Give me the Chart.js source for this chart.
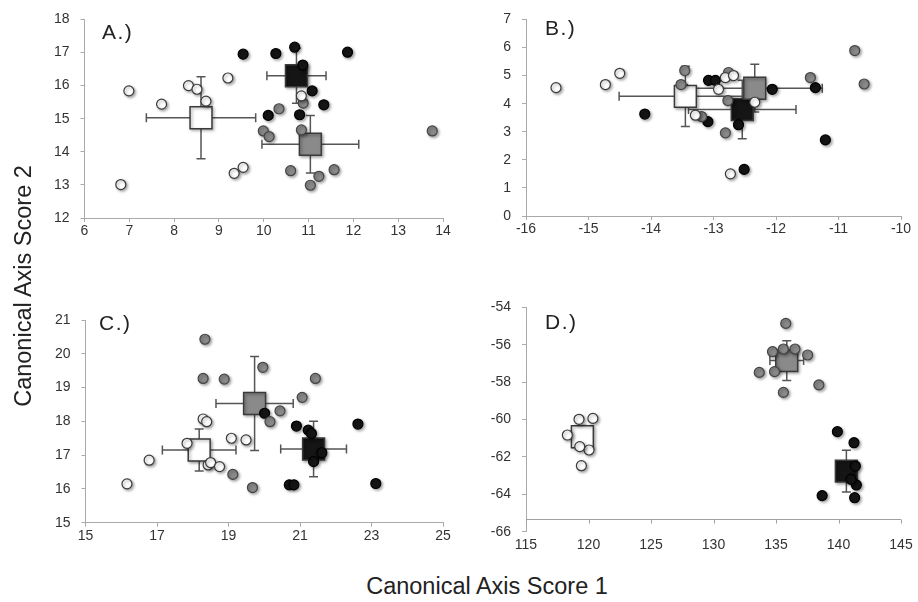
<!DOCTYPE html>
<html lang="en">
<head>
  <meta charset="UTF-8" />
  <title>Canonical Axis Scores</title>
  <script src="https://cdn.jsdelivr.net/npm/chart.js"></script>
  <style>
    body { margin: 0; background: #fff; }
    #wrap { position: relative; width: 918px; height: 602px; overflow: hidden; font-family: "Liberation Sans", Arial, sans-serif; color: #222; }
    #wrap canvas { position: absolute; }
    .lbl { position: absolute; font-size: 21px; line-height: 21px; letter-spacing: 1.5px; white-space: nowrap; }
    .title { position: absolute; font-size: 23.5px; line-height: 24px; white-space: nowrap; text-align: center; }
  </style>
</head>
<body>
  <div id="wrap">
    <canvas id="chartA" width="430" height="262" style="left:30px;top:0px"></canvas>
    <canvas id="chartB" width="448" height="262" style="left:470px;top:0px"></canvas>
    <canvas id="chartC" width="430" height="270" style="left:30px;top:290px"></canvas>
    <canvas id="chartD" width="448" height="272" style="left:470px;top:285px"></canvas>

    <div class="lbl" style="left:102px;top:21px">A.)</div>
    <div class="lbl" style="left:545px;top:16.5px">B.)</div>
    <div class="lbl" style="left:99px;top:312px">C.)</div>
    <div class="lbl" style="left:545px;top:310.5px">D.)</div>

    <div class="title" style="left:287px;top:574px;width:400px">Canonical Axis Score 1</div>
    <div class="title" style="left:-177.5px;top:273.5px;width:400px;transform:rotate(-90deg)">Canonical Axis Score 2</div>
  </div>

  <script>
    // panel A
    const aWhite = [[6.81,13.01],[6.99,15.84],[7.72,15.44],[8.32,16.0],[8.51,15.89],[8.71,15.53],[9.20,16.23],[9.34,13.35],[9.54,13.53],[10.84,15.69]];
    const aGray  = [[9.99,14.63],[10.12,14.46],[10.34,15.30],[10.88,15.47],[10.84,14.66],[10.60,13.43],[11.04,12.99],[11.23,13.26],[11.57,13.46],[13.76,14.63]];
    const aBlack = [[9.54,16.95],[10.27,16.97],[10.69,17.16],[11.87,17.01],[10.87,16.62],[11.08,15.84],[11.34,15.42],[10.10,15.10],[10.80,15.12]];
    const aMeans = [[8.60,15.03],[11.04,14.23],[10.73,16.30]];   // white, gray, black
    const aErrX  = [1.22, 1.08, 0.66];
    const aErrY  = [1.24, 0.87, 0.83];

    // panel B
    const bWhite = [[-15.52,4.57],[-14.73,4.68],[-14.50,5.08],[-13.29,3.59],[-12.92,4.51],[-12.81,4.93],[-12.68,5.0],[-12.73,1.50],[-12.34,4.05]];
    const bGray  = [[-13.46,5.18],[-13.52,4.68],[-12.76,5.11],[-12.77,4.11],[-13.19,3.54],[-12.81,2.96],[-11.45,4.93],[-10.74,5.89],[-10.59,4.70]];
    const bBlack = [[-14.10,3.63],[-13.08,4.83],[-12.97,4.83],[-13.09,3.36],[-12.60,3.25],[-12.51,1.66],[-12.06,4.51],[-11.37,4.57],[-11.21,2.71]];
    const bMeans = [[-13.45,4.26],[-12.34,4.55],[-12.54,3.79]];
    const bErrX  = [1.06, 1.08, 0.86];
    const bErrY  = [1.07, 0.85, 1.04];

    // panel C
    const cWhite = [[16.16,16.15],[16.78,16.85],[17.84,17.35],[18.29,18.07],[18.39,17.99],[18.43,16.71],[18.50,16.78],[18.75,16.66],[19.08,17.50],[19.49,17.45]];
    const cGray  = [[18.34,20.43],[18.29,19.27],[18.88,19.25],[19.96,19.60],[21.06,18.71],[21.43,19.27],[20.44,18.31],[20.16,17.99],[19.12,16.43],[19.67,16.04]];
    const cBlack = [[20.01,18.24],[20.90,17.86],[21.23,17.74],[21.32,17.64],[22.62,17.92],[23.12,16.16],[20.70,16.12],[20.83,16.12],[21.38,16.81],[21.61,17.07]];
    const cMeans = [[18.18,17.15],[19.73,18.53],[21.38,17.18]];
    const cErrX  = [1.03, 1.08, 0.92];
    const cErrY  = [0.62, 1.39, 0.82];

    // panel D
    const dWhite = [[119.24,-59.99],[120.35,-59.94],[118.31,-60.83],[120.04,-61.63],[119.43,-62.47],[119.3,-61.45]];
    const dGray  = [[135.78,-54.86],[134.72,-56.37],[135.59,-56.23],[136.52,-56.23],[137.53,-56.55],[133.66,-57.48],[134.88,-57.44],[135.59,-58.55],[138.43,-58.15]];
    const dBlack = [[139.91,-60.65],[141.24,-61.24],[141.35,-62.49],[141.43,-63.50],[138.69,-64.07],[141.29,-64.18],[141.0,-63.2]];
    const dMeans = [[119.51,-60.92],[135.86,-56.85],[140.63,-62.76]];
    const dErrX  = [0.4, 1.35, 0.5];
    const dErrY  = [0.6, 1.06, 1.12];
    const dXCross = -65.33;   // horizontal axis crosses here in panel D

    const FONT = '"Liberation Sans", Arial, sans-serif';
    const FILLS = ['#ffffff', '#8a8a8a', '#151515'];
    const EDGES = ['#3a3a3a', '#444444', '#000000'];

    const pts = arr => arr.map(p => ({ x: p[0], y: p[1] }));

    // error bars under the points, then a soft drop shadow for the markers
    const errBars = {
      id: 'errbars',
      beforeDatasetsDraw(chart, args, opts) {
        const ctx = chart.ctx, xs = chart.scales.x, ys = chart.scales.y;
        ctx.save();
        ctx.strokeStyle = '#555';
        ctx.lineWidth = 1.5;
        const cap = 4.5;
        (opts.means || []).forEach((m, i) => {
          const cx = xs.getPixelForValue(m[0]), cy = ys.getPixelForValue(m[1]);
          const x1 = xs.getPixelForValue(m[0] - opts.errX[i]), x2 = xs.getPixelForValue(m[0] + opts.errX[i]);
          const y1 = ys.getPixelForValue(m[1] + opts.errY[i]), y2 = ys.getPixelForValue(m[1] - opts.errY[i]);
          ctx.beginPath();
          ctx.moveTo(x1, cy); ctx.lineTo(x2, cy);
          ctx.moveTo(x1, cy - cap); ctx.lineTo(x1, cy + cap);
          ctx.moveTo(x2, cy - cap); ctx.lineTo(x2, cy + cap);
          ctx.moveTo(cx, y1); ctx.lineTo(cx, y2);
          ctx.moveTo(cx - cap, y1); ctx.lineTo(cx + cap, y1);
          ctx.moveTo(cx - cap, y2); ctx.lineTo(cx + cap, y2);
          ctx.stroke();
        });
        ctx.restore();
        ctx.shadowColor = 'rgba(0,0,0,0.35)';
        ctx.shadowBlur = 3;
        ctx.shadowOffsetX = 1.5;
        ctx.shadowOffsetY = 1.5;
      },
      afterDatasetsDraw(chart) {
        const ctx = chart.ctx;
        ctx.shadowColor = 'rgba(0,0,0,0)';
        ctx.shadowBlur = 0;
        ctx.shadowOffsetX = 0;
        ctx.shadowOffsetY = 0;
      },
      // horizontal axis line where it crosses the vertical axis (panel D)
      afterDraw(chart, args, opts) {
        if (opts.cross === undefined || opts.cross === null) return;
        const ctx = chart.ctx, xs = chart.scales.x, ys = chart.scales.y;
        const yc = Math.round(ys.getPixelForValue(opts.cross)) + 0.5;
        ctx.save();
        ctx.strokeStyle = '#a0a0a0';
        ctx.lineWidth = 1;
        ctx.beginPath();
        ctx.moveTo(chart.chartArea.left, yc);
        ctx.lineTo(chart.chartArea.right, yc);
        for (let v = xs.min; v <= xs.max; v += opts.step) {
          const px = Math.round(xs.getPixelForValue(v)) + 0.5;
          ctx.moveTo(px, yc);
          ctx.lineTo(px, yc + 4);
        }
        ctx.stroke();
        ctx.restore();
      }
    };

    function axis(min, max, step, size, horiz, hideLine) {
      return {
        type: 'linear',
        min: min,
        max: max,
        ticks: { stepSize: step, color: '#333', font: { family: FONT, size: 14 }, padding: horiz ? 1 : 11, autoSkip: false, maxRotation: 0 },
        grid: { display: !hideLine, drawOnChartArea: false, tickLength: 4, color: '#aaa' },
        border: { display: !hideLine, color: '#aaa' },
        afterFit: s => { if (horiz) s.height = size; else s.width = size; }
      };
    }

    function makePanel(id, white, gray, black, means, errX, errY, p) {
      const groups = [white, gray, black];
      const datasets = groups.map((g, i) => ({
        data: pts(g),
        pointRadius: 5,
        pointBackgroundColor: FILLS[i],
        pointBorderColor: EDGES[i],
        pointBorderWidth: 1.2
      }));
      means.forEach((m, i) => datasets.push({
        data: [{ x: m[0], y: m[1] }],
        pointStyle: 'rect',
        pointRadius: 15.5,
        pointBackgroundColor: FILLS[i],
        pointBorderColor: '#3a3a3a',
        pointBorderWidth: 1.5
      }));

      const hasCross = typeof p.cross === 'number';
      new Chart(document.getElementById(id), {
        type: 'scatter',
        data: { datasets: datasets },
        options: {
          responsive: false,
          animation: false,
          layout: { padding: { top: p.top, right: p.right, left: 0, bottom: 0 } },
          scales: {
            x: axis(p.xmin, p.xmax, p.xstep, p.xh, true, hasCross),
            y: axis(p.ymin, p.ymax, p.ystep, p.yw, false, false)
          },
          plugins: {
            legend: { display: false },
            tooltip: { enabled: false },
            errbars: { means: means, errX: errX, errY: errY, cross: hasCross ? p.cross : null, step: p.xstep }
          }
        },
        plugins: [errBars]
      });
    }

    makePanel('chartA', aWhite, aGray, aBlack, aMeans, aErrX, aErrY,
      { xmin: 6, xmax: 14, xstep: 1, ymin: 12, ymax: 18, ystep: 1, top: 15, right: 13, yw: 54.5, xh: 44 });
    makePanel('chartB', bWhite, bGray, bBlack, bMeans, bErrX, bErrY,
      { xmin: -16, xmax: -10, xstep: 1, ymin: 0, ymax: 7, ystep: 1, top: 12.7, right: 15, yw: 56, xh: 46 });
    makePanel('chartC', cWhite, cGray, cBlack, cMeans, cErrX, cErrY,
      { xmin: 15, xmax: 25, xstep: 2, ymin: 15, ymax: 21, ystep: 1, top: 30, right: 10, yw: 55.5, xh: 37.3 });
    makePanel('chartD', dWhite, dGray, dBlack, dMeans, dErrX, dErrY,
      { xmin: 115, xmax: 145, xstep: 5, ymin: -66, ymax: -54, ystep: 2, top: 22.3, right: 14.7, yw: 56, xh: 25.3, cross: dXCross });
  </script>
</body>
</html>
